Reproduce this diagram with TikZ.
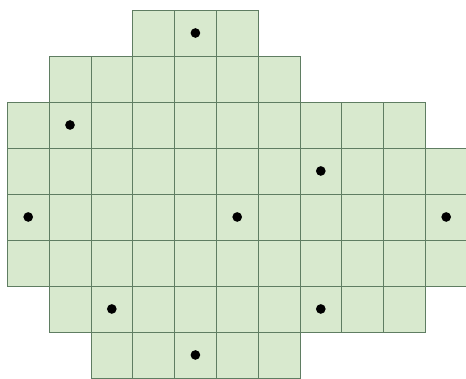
\documentclass[tikz,border=0pt]{standalone}
\usetikzlibrary{positioning}
\definecolor{cellgreen}{HTML}{D8E9CE}
\definecolor{gridline}{HTML}{5F7D62}
\begin{document}
\begin{tikzpicture}[x=1.254cm,y=-1.38cm,
  cell/.style={fill=cellgreen,draw=gridline,line width=0.6pt},
  dot/.style={circle,fill=black,inner sep=0pt,minimum size=2.9mm}]
\useasboundingbox (-0.175,-0.217) rectangle (10.974,8.022);
% rows of cells: row / first column / last column
\foreach \r/\a/\b in {0/3/5,1/1/6,2/0/9,3/0/10,4/0/10,5/0/10,6/1/9,7/2/6}
  \foreach \c in {\a,...,\b}
    \draw[cell] (\c,\r) rectangle ++(1,1);
% dots in the middle of their cells
\foreach \c/\r [count=\i] in {4/0,1/2,7/3,0/4,5/4,10/4,2/6,7/6,4/7}
  \node[dot] (dot\i) at (\c+0.5,\r+0.5) {};
\end{tikzpicture}
\end{document}
